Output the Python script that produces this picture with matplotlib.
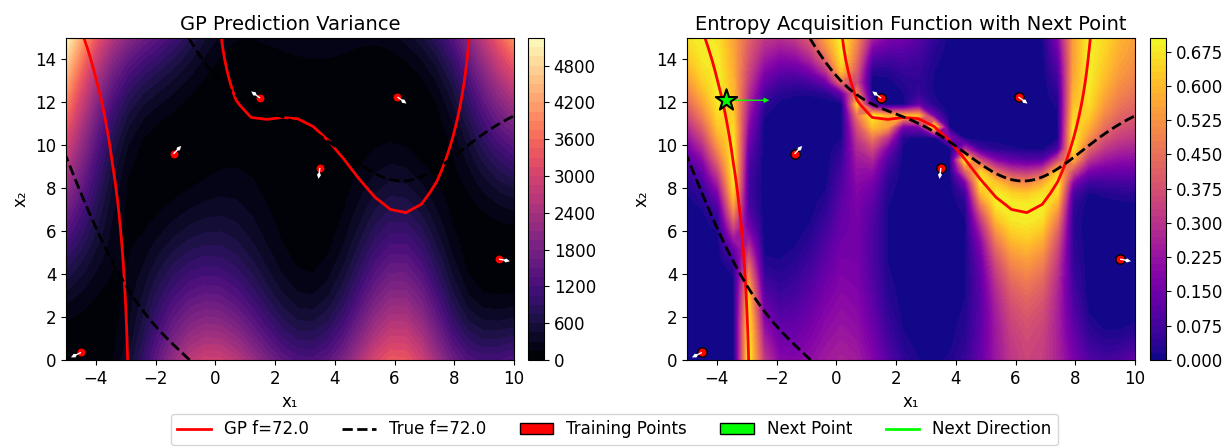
import numpy as np
import matplotlib.pyplot as plt
from matplotlib.patches import Patch
from matplotlib.lines import Line2D
from math import erf

train_x1 = np.array([-4.5, -1.4, 1.5, 3.5, 6.1, 9.5])
train_x2 = np.array([0.35, 9.6, 12.2, 8.95, 12.25, 4.7])
arrow_deg = np.array([206, 46, 143, 263, -36, -11])

next_x1, next_x2 = -3.7, 12.1
next_deg = 0.0
LEVEL = 72.0

# GP settings (RBF kernel, directional derivative observations)
SIG2 = 9500.0
ENT_SIG2 = 11000.0   # kernel amplitude used for the entropy panel
LENGTHS = np.array([2.5, 11.0])
N_GRID = 30


def branin(x1, x2):
    b = 5.1 / (4 * np.pi ** 2)
    c = 5 / np.pi
    t = 1 / (8 * np.pi)
    return (x2 - b * x1 ** 2 + c * x1 - 6) ** 2 + 10 * (1 - t) * np.cos(x1) + 10


def branin_grad(x1, x2):
    b = 5.1 / (4 * np.pi ** 2)
    c = 5 / np.pi
    t = 1 / (8 * np.pi)
    inner = x2 - b * x1 ** 2 + c * x1 - 6
    return 2 * inner * (-2 * b * x1 + c) - 10 * (1 - t) * np.sin(x1), 2 * inner


P = np.column_stack([train_x1, train_x2])
U = np.column_stack([np.cos(np.radians(arrow_deg)), np.sin(np.radians(arrow_deg))])
y = branin(train_x1, train_x2)
gx, gy = branin_grad(train_x1, train_x2)
dy = gx * U[:, 0] + gy * U[:, 1]
l2 = LENGTHS ** 2

g1 = np.linspace(-5, 10, N_GRID)
g2 = np.linspace(0, 15, N_GRID)
G1, G2 = np.meshgrid(g1, g2)
Q = np.column_stack([G1.ravel(), G2.ravel()])


def gp_posterior(s2):
    def kff(A, B):
        D = A[:, None, :] - B[None, :, :]
        return s2 * np.exp(-0.5 * np.sum(D ** 2 / l2, axis=2)), D

    def kfd(A, B):
        k, D = kff(A, B)
        return k * np.sum(U[None, :, :] * D / l2, axis=2)

    Kpp, Dpp = kff(P, P)
    a = np.sum(U[:, None, :] * Dpp / l2, axis=2)
    b = np.sum(U[None, :, :] * Dpp / l2, axis=2)
    Kdd = Kpp * ((U / l2) @ U.T - a * b)
    Kpd = kfd(P, P)
    K = np.block([[Kpp, Kpd], [Kpd.T, Kdd]]) + 1e-6 * s2 * np.eye(2 * len(y))
    Kq = np.hstack([kff(Q, P)[0], kfd(Q, P)])
    mu = Kq @ np.linalg.solve(K, np.concatenate([y, dy]))
    var = np.clip(s2 - np.sum(Kq * np.linalg.solve(K, Kq.T).T, axis=1), 1e-9, None)
    return mu, var


mu, var = gp_posterior(SIG2)
mu_e, var_e = gp_posterior(ENT_SIG2)

z = (mu_e - LEVEL) / np.sqrt(var_e)
p = 0.5 * (1 + np.vectorize(erf)(z / np.sqrt(2)))
p = np.clip(p, 1e-12, 1 - 1e-12)
ent = -p * np.log(p) - (1 - p) * np.log(1 - p)

MU = mu.reshape(G1.shape)
VAR = var.reshape(G1.shape)
ENT = ent.reshape(G1.shape)

F1, F2 = np.meshgrid(np.linspace(-5, 10, 200), np.linspace(0, 15, 200))
TRUE = branin(F1, F2)

fig = plt.figure(figsize=(12.29, 4.48), dpi=100)
ax1 = fig.add_axes([0.0537, 0.1964, 0.3645, 0.7188])
cax1 = fig.add_axes([0.4296, 0.1964, 0.013, 0.7188])
ax2 = fig.add_axes([0.559, 0.1964, 0.3645, 0.7188])
cax2 = fig.add_axes([0.9357, 0.1964, 0.013, 0.7188])

cf1 = ax1.contourf(G1, G2, VAR, levels=50, cmap='magma')
fig.colorbar(cf1, cax=cax1)
cf2 = ax2.contourf(G1, G2, ENT, levels=50, cmap='plasma')
fig.colorbar(cf2, cax=cax2)

for ax in (ax1, ax2):
    ax.contour(G1, G2, MU, levels=[LEVEL], colors='red', linewidths=2)
    ax.contour(F1, F2, TRUE, levels=[LEVEL], colors='black', linewidths=2, linestyles='--')
    ax.scatter(train_x1, train_x2, s=45, c='red', edgecolors='black', zorder=5)
    ax.quiver(train_x1, train_x2, U[:, 0], U[:, 1], color='white', angles='uv',
              scale_units='inches', scale=9, width=0.003, headwidth=3, headlength=3, zorder=6)
    ax.set_xlim(-5, 10)
    ax.set_ylim(0, 15)
    ax.set_xlabel('x₁', fontsize=12)
    ax.set_ylabel('x₂', fontsize=12)
    ax.tick_params(labelsize=12)

ax2.scatter([next_x1], [next_x2], marker='*', s=260, c='lime', edgecolors='black',
            linewidths=1.5, zorder=7)
ax2.quiver([next_x1], [next_x2], [np.cos(np.radians(next_deg))], [np.sin(np.radians(next_deg))],
           color='lime', angles='uv', scale_units='inches', scale=2.3, width=0.003,
           headwidth=4, headlength=4, zorder=6)

ax1.set_title('GP Prediction Variance', fontsize=14)
ax2.set_title('Entropy Acquisition Function with Next Point', fontsize=14)
for cax in (cax1, cax2):
    cax.tick_params(labelsize=12)

handles = [
    Line2D([0], [0], color='red', lw=2, label='GP f=72.0'),
    Line2D([0], [0], color='black', lw=2, ls='--', label='True f=72.0'),
    Patch(facecolor='red', edgecolor='black', label='Training Points'),
    Patch(facecolor='lime', edgecolor='black', label='Next Point'),
    Line2D([0], [0], color='lime', lw=2, label='Next Direction'),
]
fig.legend(handles=handles, loc='lower center', bbox_to_anchor=(0.5, -0.012), ncol=5, fontsize=12)

fig.savefig('out.png', dpi=100)
